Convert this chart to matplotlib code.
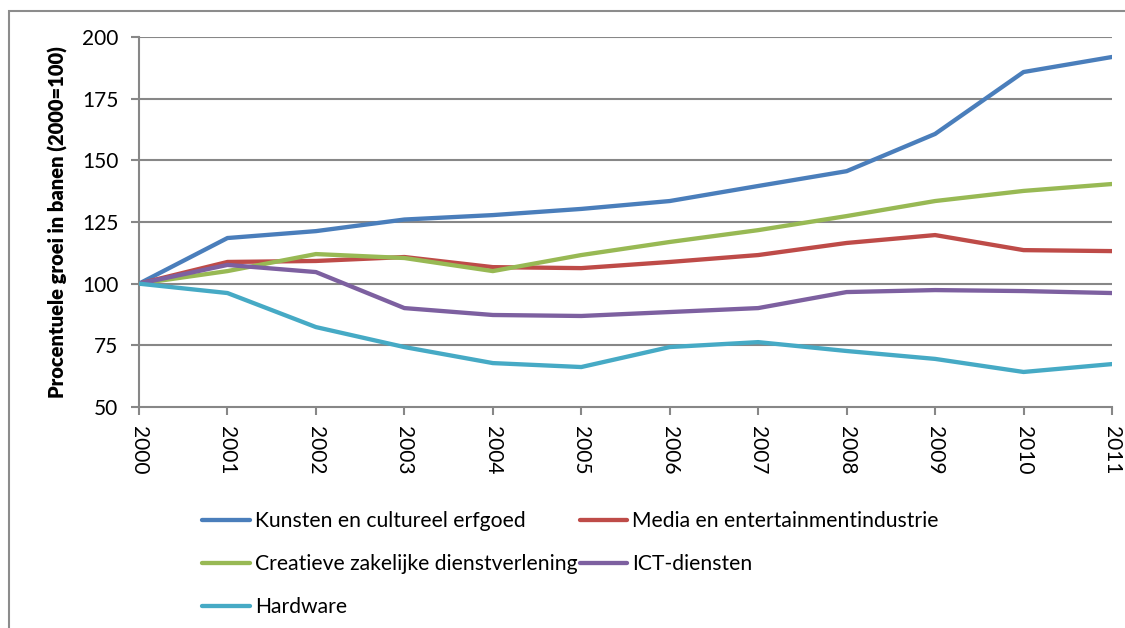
import matplotlib.pyplot as plt
from matplotlib.patches import Rectangle

years = [str(y) for y in range(2000, 2012)]
kunsten = [100, 118.5, 121.3, 126.0, 127.8, 130.3, 133.5, 139.6, 145.6, 160.7, 185.8, 191.9]
media = [100, 108.8, 109.2, 110.8, 106.7, 106.3, 108.8, 111.6, 116.5, 119.7, 113.6, 113.2]
creatief = [100, 105.1, 112.0, 110.4, 105.1, 111.6, 116.9, 121.7, 127.4, 133.5, 137.6, 140.4]
ict = [100, 107.6, 104.7, 90.1, 87.3, 86.9, 88.5, 90.1, 96.6, 97.4, 97.0, 96.2]
hardware = [100, 96.2, 82.4, 74.3, 67.8, 66.2, 74.3, 76.3, 72.7, 69.5, 64.2, 67.4]

labels = ["Kunsten en cultureel erfgoed", "Media en entertainmentindustrie",
          "Creatieve zakelijke dienstverlening", "ICT-diensten", "Hardware"]
colors = ["#4A7EBB", "#BE4B48", "#98B954", "#7D60A0", "#46AAC5"]
yticks = [50, 75, 100, 125, 150, 175, 200]

plt.rcParams["font.family"] = ["Lato", "DejaVu Sans"]
grid_col = "#878787"

fig = plt.figure(figsize=(11.25, 6.28), dpi=100)
ax = fig.add_axes([139 / 1125, 1 - 407 / 628, (1112 - 139) / 1125, (407 - 37) / 628])

# outer chart frame
fig.patches.append(Rectangle((9 / 1125, -0.05), 1.2, 1 - 11 / 628 + 0.05,
                             transform=fig.transFigure, fill=False,
                             edgecolor="#8c8c8c", linewidth=1.5, clip_on=False))

x = list(range(len(years)))
lines = []
for data, col, lab in zip([kunsten, media, creatief, ict, hardware], colors, labels):
    ln, = ax.plot(x, data, color=col, linewidth=3.1, label=lab,
                  solid_capstyle="round", solid_joinstyle="round", zorder=3)
    lines.append(ln)

ax.set_xlim(0, len(years) - 1)
ax.set_ylim(50, 200)
ax.set_yticks(yticks)
ax.set_xticks(x)
ax.set_xticklabels(years, rotation=-90)
for y in yticks[1:]:
    ax.axhline(y, color=grid_col, linewidth=1.5, zorder=1)

for s in ["top", "right"]:
    ax.spines[s].set_visible(False)
for s in ["left", "bottom"]:
    ax.spines[s].set_color(grid_col)
    ax.spines[s].set_linewidth(1.5)
ax.tick_params(axis="both", colors=grid_col, width=1.5, length=6, labelsize=15,
               labelcolor="black")
ax.tick_params(axis="x", pad=8)
ax.tick_params(axis="y", pad=9)
ax.set_ylabel("Procentuele groei in banen (2000=100)", fontsize=14.5, fontweight="heavy",
              labelpad=10)

# column-major order so rows read: Kunsten/Media, Creatieve/ICT, Hardware
order = [0, 2, 4, 1, 3]
fig.legend([lines[i] for i in order], [labels[i] for i in order], ncol=2,
           loc="upper left", bbox_to_anchor=(202 / 1125, 1 - 511 / 628),
           frameon=False, fontsize=15.2, handlelength=2.25, handletextpad=0.25,
           columnspacing=0.1, labelspacing=1.1, borderpad=0, borderaxespad=0)

fig.savefig("out.png", dpi=100)
